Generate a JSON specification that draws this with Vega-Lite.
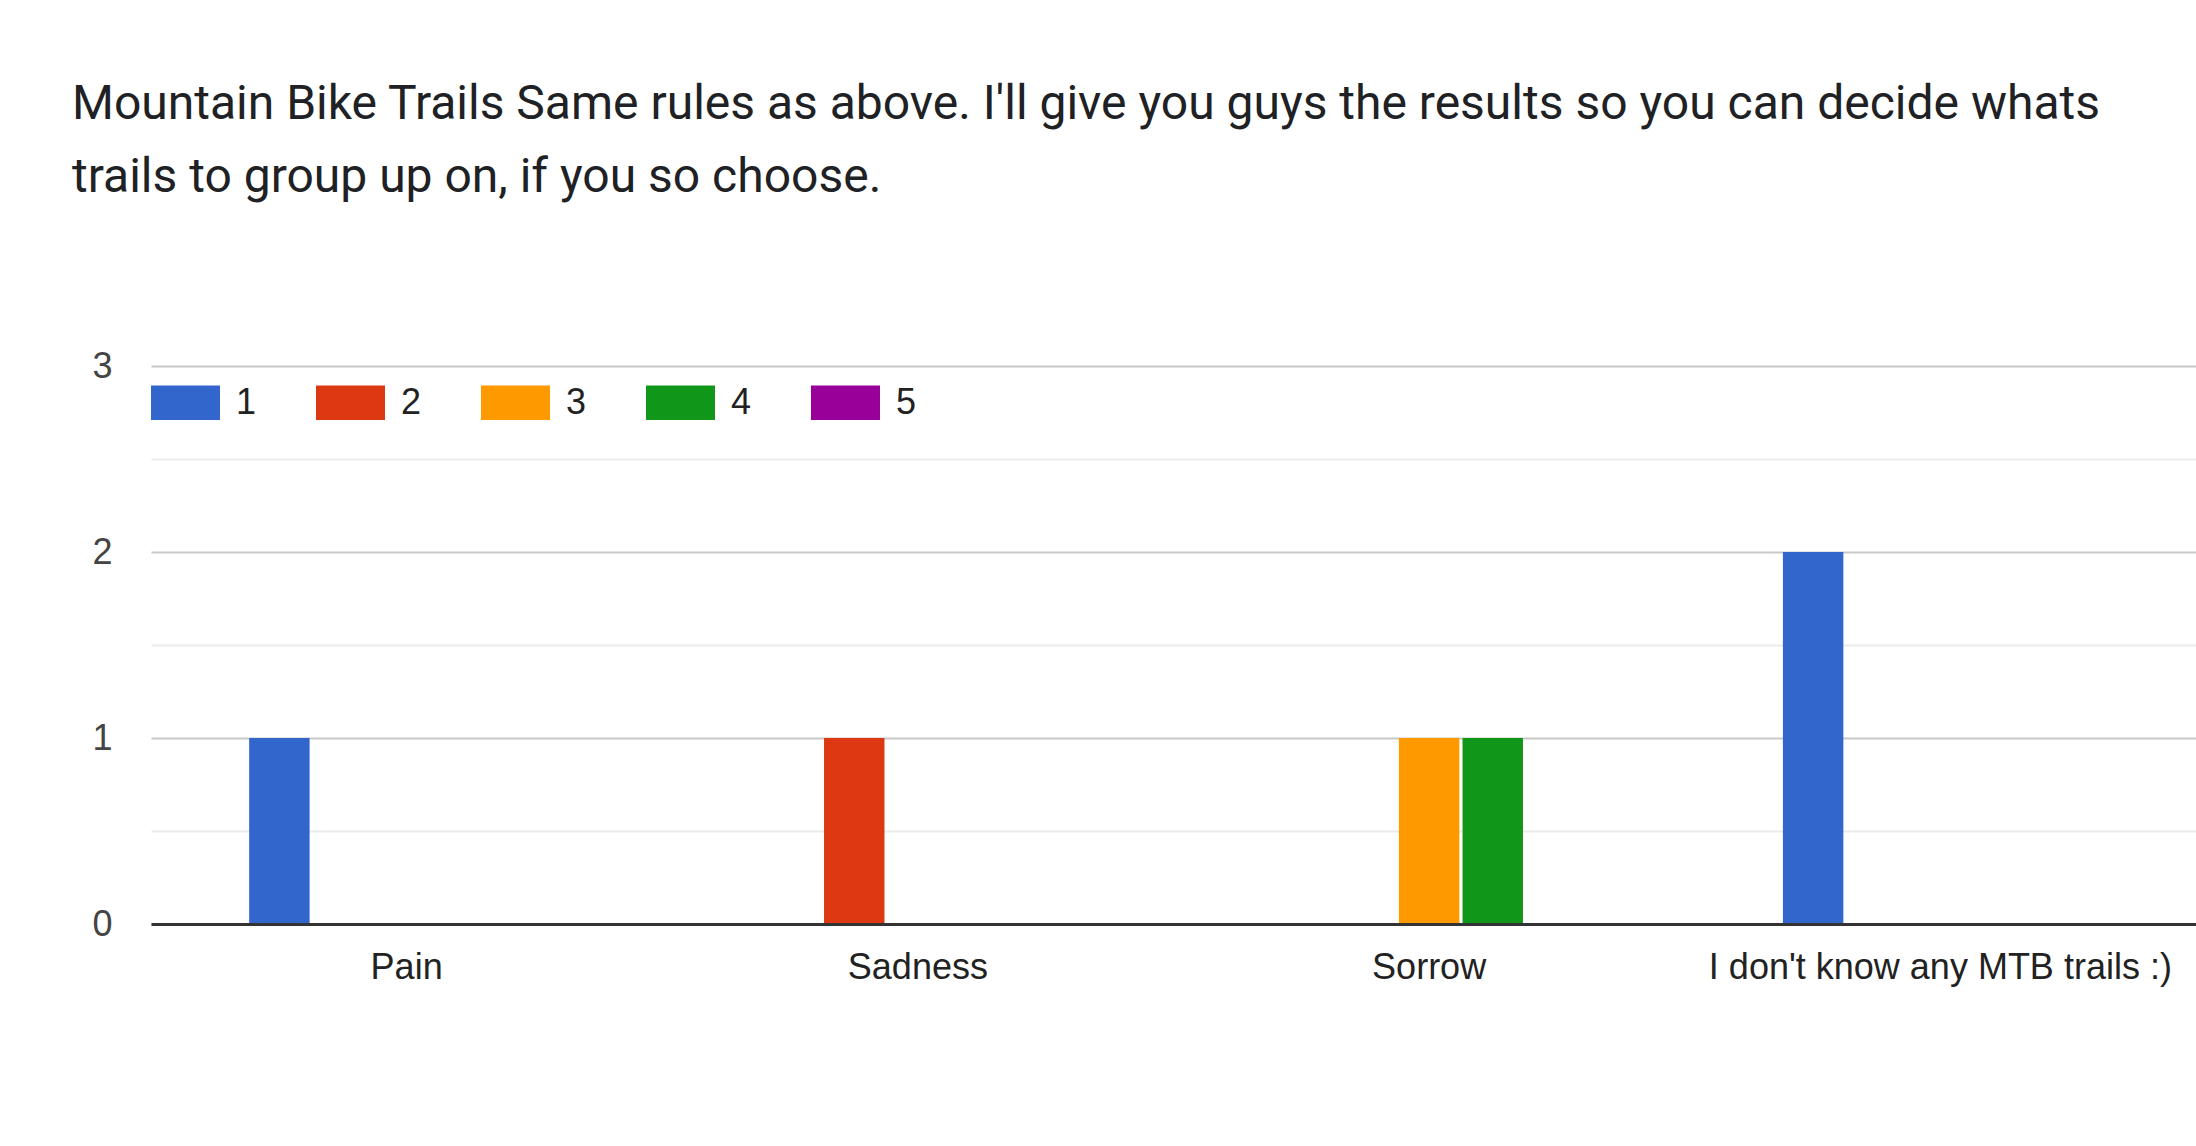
{
  "$schema": "https://vega.github.io/schema/vega-lite/v6.json",
  "autosize": {"type": "none"},
  "padding": {"left": 151, "top": 366, "right": 0, "bottom": 222},
  "width": 2045,
  "height": 558,
  "background": "white",
  "config": {"view": {"stroke": null}, "font": "Liberation Sans"},
  "title": {
    "text": ["Mountain Bike Trails Same rules as above. I'll give you guys the results so you can decide whats", "trails to group up on, if you so choose."],
    "anchor": "start",
    "frame": "group",
    "font": "Roboto",
    "fontSize": 48,
    "fontWeight": "normal",
    "color": "#202124",
    "lineHeight": 73,
    "dx": -79,
    "offset": 146
  },
  "data": {
    "values": [
      {"trail": "Pain", "rating": "1", "count": 1},
      {"trail": "Pain", "rating": "2", "count": 0},
      {"trail": "Pain", "rating": "3", "count": 0},
      {"trail": "Pain", "rating": "4", "count": 0},
      {"trail": "Pain", "rating": "5", "count": 0},
      {"trail": "Sadness", "rating": "1", "count": 0},
      {"trail": "Sadness", "rating": "2", "count": 1},
      {"trail": "Sadness", "rating": "3", "count": 0},
      {"trail": "Sadness", "rating": "4", "count": 0},
      {"trail": "Sadness", "rating": "5", "count": 0},
      {"trail": "Sorrow", "rating": "1", "count": 0},
      {"trail": "Sorrow", "rating": "2", "count": 0},
      {"trail": "Sorrow", "rating": "3", "count": 1},
      {"trail": "Sorrow", "rating": "4", "count": 1},
      {"trail": "Sorrow", "rating": "5", "count": 0},
      {"trail": "I don't know any MTB trails :)", "rating": "1", "count": 2},
      {"trail": "I don't know any MTB trails :)", "rating": "2", "count": 0},
      {"trail": "I don't know any MTB trails :)", "rating": "3", "count": 0},
      {"trail": "I don't know any MTB trails :)", "rating": "4", "count": 0},
      {"trail": "I don't know any MTB trails :)", "rating": "5", "count": 0}
    ]
  },
  "mark": {"type": "bar"},
  "encoding": {
    "x": {
      "field": "trail",
      "type": "nominal",
      "sort": null,
      "title": null,
      "scale": {"paddingInner": 0.384, "paddingOuter": 0.192},
      "axis": {
        "labelAngle": 0,
        "labelFontSize": 36,
        "labelColor": "#222222",
        "labelPadding": 26,
        "labelLimit": 0,
        "ticks": false,
        "tickSize": 0,
        "domainColor": "#333333",
        "domainWidth": 3,
        "grid": false,
        "zindex": 1
      }
    },
    "xOffset": {
      "field": "rating",
      "type": "nominal",
      "scale": {"domain": ["1", "2", "3", "4", "5"], "paddingInner": 0.05, "paddingOuter": 0}
    },
    "y": {
      "field": "count",
      "type": "quantitative",
      "title": null,
      "scale": {"domain": [0, 3], "nice": false},
      "axis": {
        "values": [0, 0.5, 1, 1.5, 2, 2.5, 3],
        "labelExpr": "datum.value % 1 == 0 ? format(datum.value, 'd') : ''",
        "labelFontSize": 36,
        "labelColor": "#444444",
        "labelPadding": 39,
        "ticks": false,
        "tickSize": 0,
        "domain": false,
        "gridWidth": 2,
        "gridColor": {"condition": {"test": "datum.value % 1 != 0", "value": "#ebebeb"}, "value": "#c8c8c8"}
      }
    },
    "color": {
      "field": "rating",
      "type": "nominal",
      "scale": {
        "domain": ["1", "2", "3", "4", "5"],
        "range": ["#3366cc", "#dc3912", "#ff9900", "#109618", "#990099"]
      },
      "legend": {
        "title": null,
        "orient": "none",
        "direction": "horizontal",
        "legendX": 0,
        "legendY": 2,
        "symbolType": "M-1,-0.5H1V0.5H-1Z",
        "symbolSize": 4761,
        "symbolStrokeWidth": 0,
        "symbolOpacity": 1,
        "labelFontSize": 36,
        "labelColor": "#222222",
        "labelOffset": 16,
        "columnPadding": 59
      }
    }
  }
}
